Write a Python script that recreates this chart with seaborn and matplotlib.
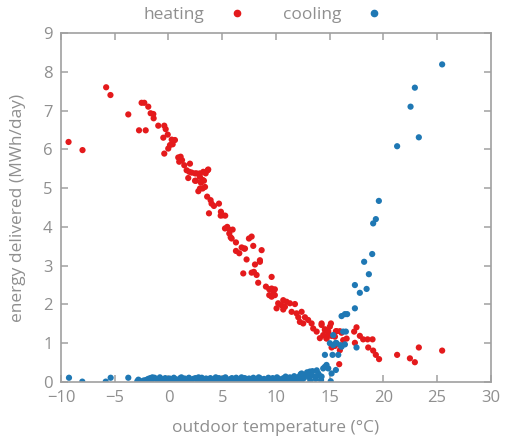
import matplotlib
matplotlib.use("Agg")
import matplotlib.pyplot as plt
import seaborn as sns
import pandas as pd

# heating series (outdoor temperature °C, energy MWh/day)
heat_t = [-9.3, -8.0, -5.8, -5.4, -3.74, -2.5, -2.25, -1.88, -1.66, -1.41, -1.38, -2.74, -2.12,
          -0.95, -0.39, -0.26, -0.07, -0.48, 0.3, 0.6, 0.14, 0.39, -0.02, -0.39, 0.91, 1.13, 1.26, 1.0,
          1.47, 2.0, 1.69, 1.94, 2.47, 2.93, 3.24, 3.65, 1.84, 2.56, 2.93, 3.18, 2.93, 3.4,
          2.16, 2.62, 3.46, 3.70, 2.47, 3.02, 3.3, 2.78, 3.18, 3.6, 3.92, 4.01, 4.23, 4.70, 3.77,
          4.88, 5.04, 4.86, 5.28, 5.26, 5.47, 5.72, 5.97, 5.66, 5.79, 6.28, 7.49, 7.89, 6.81, 7.05,
          6.28, 6.59, 8.67, 7.27, 8.51, 5.88, 6.96, 7.74, 7.12, 7.74,
          8.05, 8.51, 7.95, 8.2, 8.35, 9.6, 9.07, 9.38, 9.6, 9.75, 9.9, 9.38, 9.6, 9.9,
          10.68, 10.99, 10.21, 10.52, 10.84, 11.3, 11.77, 10.06, 10.68,
          11.46, 11.92, 12.39, 12.08, 12.7, 12.23, 12.54, 13.0, 13.32,
          13.47, 13.79, 14.25, 14.56, 14.87, 15.02, 15.58, 14.09, 14.71,
          14.25, 15.12, 14.56, 14.87, 14.4, 14.71, 15.18, 15.49, 15.65, 15.95, 16.11,
          16.26, 16.58, 15.49, 15.18, 15.95, 15.89,
          17.28, 17.5, 17.81, 18.12, 18.53, 18.99, 17.35, 18.59, 19.05, 19.3, 19.6,
          21.28, 22.47, 22.93, 23.3, 25.47]
heat_e = [6.19, 5.98, 7.6, 7.4, 6.90, 7.2, 7.2, 7.10, 6.93, 6.91, 6.80, 6.49, 6.49,
          6.61, 6.61, 6.52, 6.38, 6.30, 6.25, 6.24, 6.11, 6.13, 6.02, 5.89, 5.79, 5.81, 5.72, 5.68,
          5.59, 5.63, 5.46, 5.42, 5.38, 5.38, 5.42, 5.46, 5.26, 5.19, 5.29, 5.21, 4.99, 5.03,
          5.40, 5.38, 5.38, 5.48, 5.19, 5.14, 5.19, 4.92, 4.99, 4.78, 4.69, 4.60, 4.54, 4.60, 4.35,
          4.39, 4.30, 4.29, 4.29, 3.96, 4.00, 3.92, 3.93, 3.83, 3.73, 3.60, 3.70, 3.51, 3.47, 3.44,
          3.38, 3.32, 3.40, 3.16, 3.14, 3.70, 2.80, 2.82, 3.44, 3.75,
          3.03, 3.10, 2.84, 2.76, 2.56, 2.71, 2.46, 2.39, 2.41, 2.33, 2.39, 2.24, 2.20, 2.24,
          2.11, 2.07, 2.03, 1.98, 1.94, 2.03, 2.01, 1.90, 1.87,
          1.81, 1.77, 1.81, 1.67, 1.67, 1.55, 1.51, 1.60, 1.51,
          1.38, 1.30, 1.47, 1.34, 1.25, 1.43, 1.31, 1.13, 1.13,
          1.51, 1.51, 1.36, 1.31, 1.21, 1.12, 1.19, 1.17, 1.31, 1.31, 1.27,
          1.08, 1.12, 0.93, 0.89, 0.82, 0.46,
          1.30, 1.41, 1.19, 1.10, 1.10, 1.10, 1.01, 0.89, 0.81, 0.70, 0.59,
          0.70, 0.61, 0.51, 0.89, 0.81]

# cooling series
cool_t = [-9.26, -8.02, -5.84, -5.38, -3.74,
          -2.9, -2.7, -2.5, -2.3, -2.1, -1.9, -1.7, -1.5, -1.3, -1.1, -0.9, -0.7, -0.5, -0.3, -0.1,
          0.1, 0.3, 0.5, 0.7, 0.9, 1.1, 1.3, 1.5, 1.7, 1.9, 2.1, 2.3, 2.5, 2.7, 2.9, 3.1, 3.3, 3.5,
          3.7, 3.9, 4.1, 4.3, 4.5, 4.7, 4.9, 5.1, 5.3, 5.5, 5.7, 5.9, 6.1, 6.3, 6.5, 6.7, 6.9, 7.1,
          7.3, 7.5, 7.7, 7.9, 8.1, 8.3, 8.5, 8.7, 8.9, 9.1, 9.3, 9.5, 9.7, 9.9, 10.1, 10.3, 10.5,
          10.7, 10.9, 11.1, 11.3, 11.5, 11.7, 11.9, 12.1, 12.3, 12.6, 12.9, 13.1, 13.4, 13.7, 14.0, 14.2,
          -2.8, -2.0, -1.6, -0.8, 0.0, 0.6, 1.2, 2.0, 2.8, 3.6, 4.4, 5.0, 6.0, 6.8, 7.6, 8.4, 9.2,
          10.0, 10.8, 11.6, 12.4, 13.2, 13.8,
          12.39, 12.7, 13.16, 13.32, 13.63, 13.94, 14.25, 14.4, 14.71, 14.87, 15.18, 15.58,
          14.56, 15.27, 15.8, 15.02, 15.33, 15.58, 16.11, 16.42, 16.26, 16.51, 15.33, 15.65, 16.0, 17.5,
          16.11, 16.42, 16.63, 17.35, 17.35, 17.81, 18.44, 18.21, 18.65, 18.96, 19.05, 19.3, 19.58,
          21.28, 22.53, 22.93, 23.3, 25.47, 14.55, 15.1]
cool_e = [0.11, 0.01, 0.01, 0.11, 0.11,
          0.02, 0.03, 0.01, 0.04, 0.05, 0.08, 0.10, 0.12, 0.11, 0.06, 0.03, 0.08, 0.02, 0.10, 0.05,
          0.09, 0.04, 0.11, 0.07, 0.02, 0.10, 0.06, 0.09, 0.03, 0.11, 0.05, 0.08, 0.10, 0.04, 0.07,
          0.11, 0.03, 0.09, 0.06, 0.10, 0.02, 0.08, 0.05, 0.10, 0.04, 0.09, 0.12, 0.03, 0.07, 0.10,
          0.05, 0.11, 0.02, 0.08, 0.06, 0.10, 0.03, 0.09, 0.05, 0.11, 0.07, 0.02, 0.10, 0.06, 0.08,
          0.04, 0.11, 0.07, 0.10, 0.05, 0.12, 0.08, 0.03, 0.10, 0.14, 0.06, 0.12, 0.09, 0.15, 0.05,
          0.13, 0.20, 0.10, 0.25, 0.12, 0.28, 0.08, 0.18, 0.05,
          0.06, 0.01, 0.04, 0.12, 0.01, 0.02, 0.12, 0.01, 0.12, 0.01, 0.12, 0.00, 0.01, 0.12, 0.00,
          0.12, 0.00, 0.01, 0.04, 0.02, 0.04, 0.03, 0.30,
          0.22, 0.18, 0.27, 0.18, 0.14, 0.22, 0.14, 0.35, 0.44, 0.35, 0.22, 0.31,
          0.70, 0.70, 0.70, 1.00, 0.95, 1.01, 0.91, 0.97, 1.30, 1.30, 1.21, 1.00, 0.95, 0.89,
          1.70, 1.75, 1.75, 1.90, 2.50, 2.30, 2.40, 3.10, 2.78, 3.30, 4.09, 4.20, 4.67,
          6.08, 7.10, 7.59, 6.31, 8.19, 0.39, 0.02]

x_ticks = [-10, -5, 0, 5, 10, 15, 20, 25, 30]
y_ticks = [0, 1, 2, 3, 4, 5, 6, 7, 8, 9]

df = pd.concat([
    pd.DataFrame({"t": heat_t, "e": heat_e, "kind": "heating"}),
    pd.DataFrame({"t": cool_t, "e": cool_e, "kind": "cooling"}),
])

sns.set_style("white")
plt.rcParams["font.family"] = ["Open Sans", "DejaVu Sans"]

grey = "#a0a0a0"
txt = "#8f8f8f"
fig = plt.figure(figsize=(5.06, 4.47), dpi=100)
ax = fig.add_axes([0.1206, 0.1454, 0.8494, 0.7808])
pal = {"heating": "#e41a1c", "cooling": "#1f78b4"}
sns.scatterplot(data=df, x="t", y="e", hue="kind", palette=pal, s=20, linewidth=0,
                ax=ax, legend=False)

ax.set_xlim(-10, 30)
ax.set_ylim(0, 9)
ax.set_xticks(x_ticks)
ax.set_yticks(y_ticks)
for s in ax.spines.values():
    s.set_color(grey)
    s.set_linewidth(1.2)
ax.tick_params(direction="in", length=5, width=1.1, color=grey, labelcolor=txt,
               labelsize=12, top=True, right=True, bottom=True, left=True, pad=6)
ax.set_xlabel("outdoor temperature (°C)", color=txt, fontsize=12.5, labelpad=10)
ax.set_ylabel("energy delivered (MWh/day)", color=txt, fontsize=12.5, labelpad=12)

from matplotlib.lines import Line2D
handles = [Line2D([], [], marker="o", linestyle="", color=pal[k], markersize=4.5) for k in ["heating", "cooling"]]
leg = ax.legend(handles, ["heating", "cooling"], ncol=2, frameon=False, markerfirst=False,
                loc="lower center", bbox_to_anchor=(0.47, 1.0), fontsize=12.5,
                handlelength=1.0, columnspacing=2.15, handletextpad=1.4, borderaxespad=0.15)
for t in leg.get_texts():
    t.set_color(txt)

fig.savefig("out.png", dpi=100)
